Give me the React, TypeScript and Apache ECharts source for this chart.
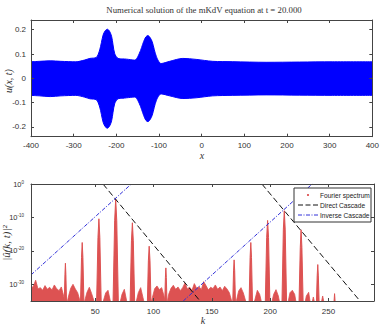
import React, { useEffect, useRef } from 'react';
import * as echarts from 'echarts';

// ---- Top panel: envelope of u(x, t) ----
const topX = [-400, -380, -355, -330, -295, -275, -262, -247, -239, -231, -226, -221, -216, -211, -204, -196, -185, -176, -157, -146, -136, -131, -126, -121, -116, -106, -95, -75, -44, -13, 26, 73, 151, 229, 306, 400];
const topUpper = [0.068, 0.070, 0.072, 0.070, 0.068, 0.075, 0.082, 0.086, 0.117, 0.178, 0.196, 0.202, 0.194, 0.172, 0.103, 0.082, 0.080, 0.079, 0.075, 0.103, 0.151, 0.170, 0.176, 0.168, 0.151, 0.089, 0.061, 0.070, 0.082, 0.078, 0.070, 0.0685, 0.066, 0.067, 0.068, 0.068];
const topLower = [-0.070, -0.072, -0.075, -0.072, -0.070, -0.077, -0.084, -0.088, -0.118, -0.180, -0.199, -0.205, -0.197, -0.174, -0.105, -0.084, -0.082, -0.080, -0.077, -0.104, -0.152, -0.172, -0.178, -0.170, -0.152, -0.090, -0.064, -0.072, -0.083, -0.080, -0.072, -0.070, -0.068, -0.069, -0.070, -0.070];
const topYTicks = [-0.2, -0.1, 0, 0.1, 0.2];

// ---- Bottom panel: Fourier spectrum (log10 exponents) ----
const kTicks = [50, 100, 150, 200, 250];
const expTicks = [-30, -20, -10, 0];
const floorStartK = -5;
const floorStepK = 2;
const floorExp = [
  -31.2, -30.6, -28.8, -31.4, -31.0, -31.8, -30.4, -31.5, -30.9, -31.7,
  -30.2, -31.3, -31.9, -30.8, -33.5, -37, -33.8, -31.2, -30.0, -31.4,
  -32.5, -35, -37, -35, -32.4, -30.9, -32.8, -35, -37, -37,
  -37, -35, -32.6, -31.8, -35, -37, -37, -37, -36, -33,
  -31.5, -35, -37, -37, -37, -35.5, -32.5, -31.0, -34, -37,
  -37, -37, -34, -31.3, -30.5, -31.6, -31.0, -33.5, -37, -33,
  -31.2, -30.3, -31.5, -30.8, -31.9, -31.0, -29.6, -31.4, -30.9, -31.8,
  -29.8, -31.2, -30.7, -31.6, -29.2, -30.4, -31.7, -30.9, -31.3, -30.2,
  -31.5, -30.8, -31.9, -30.6, -31.4, -32.5, -35, -37, -35, -32,
  -31.0, -32.6, -35, -37, -37, -37, -34.5, -31.8, -33, -36,
  -37, -37, -37, -36, -33, -31.6, -33.5, -37, -37, -37,
  -36, -32.5, -31.8, -33, -37, -37, -37, -37, -33.5, -32.4,
  -37, -33.8, -37, -37, -37, -33.5, -37,
];
const peakPoints = [
  [23.5, -36], [24.1, -27], [24.5, -23.7], [24.9, -27], [25.5, -36],
  [37.4, -36], [38.3, -22], [38.9, -17.5], [39.5, -22], [40.4, -36],
  [51.2, -36], [52.4, -16], [53.2, -10.4], [54.0, -16], [55.2, -36],
  [65.3, -36], [66.7, -11], [67.6, -4.5], [68.5, -11], [69.9, -36],
  [79.9, -36], [81.1, -17], [81.9, -11.6], [82.7, -17], [83.9, -36],
  [94.7, -36], [95.6, -23], [96.3, -18.6], [97.0, -23], [97.9, -36],
  [109.6, -36], [110.2, -28], [110.6, -25.1], [111.0, -28], [111.6, -36],
  [167.9, -36], [168.6, -26], [169.1, -22.7], [169.6, -26], [170.3, -36],
  [181.9, -36], [182.8, -22], [183.4, -17.5], [184.0, -22], [184.9, -36],
  [195.8, -36], [197.0, -16], [197.8, -10.9], [198.6, -16], [199.8, -36],
  [210.1, -36], [211.3, -13.5], [212.1, -8.0], [212.9, -13.5], [214.1, -36],
  [224.7, -36], [225.8, -19], [226.5, -13.7], [227.2, -19], [228.3, -36],
  [239.6, -36], [240.3, -27.5], [240.8, -24.1], [241.3, -27.5], [242.0, -36],
  [254.6, -36], [255.2, -32.8], [255.8, -36],
];
const directCascade1 = [[56.7, 0], [139.9, -35]];
const directCascade2 = [[192.9, 0], [277, -35]];
const inverseCascade1 = [[-5, -27.2], [81, 0]];
const inverseCascade2 = [[125.5, -35], [236, 0]];

const SANS = '"Liberation Sans", Arial, sans-serif';
const SERIF = '"Liberation Serif", "Times New Roman", serif';
const RED = '#dd5252';
const BLUE = '#0000ff';
const CASCADE_BLUE = '#3030d8';
const FRAME = '#444';

export default function App() {
  const ref = useRef<HTMLDivElement>(null);
  useEffect(() => {
    if (!ref.current) return;
    const chart = echarts.init(ref.current, undefined, { renderer: 'svg' });
    const tick = { show: true, inside: true, length: 3, lineStyle: { color: FRAME, width: 1 } };
    const frameLine = { show: true, onZero: false, lineStyle: { color: FRAME, width: 1 } };
    const lbl = { fontSize: 8, fontFamily: SANS, color: '#333' };
    const common = { type: 'value', z: 10, axisLine: frameLine, splitLine: { show: false } };
    const option: any = {
      animation: false,
      backgroundColor: '#fff',
      grid: [
        { left: 31, top: 20, width: 342.5, height: 116.7 },
        { left: 31, top: 184, width: 343, height: 117 },
      ],
      xAxis: [
        { ...common, gridIndex: 0, min: -400, max: 400, interval: 100, axisTick: tick, axisLabel: { ...lbl, margin: 5 } },
        { ...common, gridIndex: 0, position: 'top', min: -400, max: 400, interval: 100, axisTick: tick, axisLabel: { show: false } },
        { ...common, gridIndex: 1, min: -5, max: 289, axisTick: { ...tick, customValues: kTicks }, axisLabel: { ...lbl, margin: 6, customValues: kTicks } },
        { ...common, gridIndex: 1, position: 'top', min: -5, max: 289, axisTick: { ...tick, customValues: kTicks }, axisLabel: { show: false } },
      ],
      yAxis: [
        { ...common, gridIndex: 0, min: -0.24, max: 0.24, axisTick: { ...tick, customValues: topYTicks }, axisLabel: { ...lbl, margin: 5, customValues: topYTicks, formatter: (v: number) => String(v) } },
        { ...common, gridIndex: 0, position: 'right', min: -0.24, max: 0.24, axisTick: { ...tick, customValues: topYTicks }, axisLabel: { show: false } },
        {
          ...common, gridIndex: 1, min: -35, max: 0, axisTick: { ...tick, customValues: expTicks },
          axisLabel: {
            margin: 7, customValues: expTicks, showMaxLabel: true, showMinLabel: true,
            formatter: (v: number) => `{b|10}{s|${Math.round(v)}}`,
            rich: {
              b: { fontSize: 7.5, fontFamily: SANS, color: '#333' },
              s: { fontSize: 4.5, fontFamily: SANS, color: '#333', verticalAlign: 'top', padding: [0, 0, 4, 0] },
            },
          },
        },
        { ...common, gridIndex: 1, position: 'right', min: -35, max: 0, axisTick: { ...tick, customValues: expTicks }, axisLabel: { show: false } },
      ],
      series: [
        {
          type: 'line', xAxisIndex: 0, yAxisIndex: 0, symbol: 'none', smooth: 0.3,
          data: topX.map((x, i) => [x, topUpper[i]]),
          lineStyle: { color: BLUE, width: 1 }, areaStyle: { color: BLUE, opacity: 1, origin: 'start' },
        },
        {
          type: 'line', xAxisIndex: 0, yAxisIndex: 0, symbol: 'none', smooth: 0.3,
          data: topX.map((x, i) => [x, topLower[i]]),
          lineStyle: { color: BLUE, width: 1 }, areaStyle: { color: '#fff', opacity: 1, origin: 'start' },
        },
        {
          name: 'Fourier spectrum', type: 'line', xAxisIndex: 2, yAxisIndex: 2, symbol: 'none',
          data: floorExp.map((v, i) => [floorStartK + i * floorStepK, v]),
          lineStyle: { color: RED, width: 0.8 }, areaStyle: { color: RED, opacity: 1, origin: 'start' },
        },
        {
          name: 'Fourier spectrum', type: 'line', xAxisIndex: 2, yAxisIndex: 2, symbol: 'none',
          data: peakPoints,
          lineStyle: { color: RED, width: 1 }, areaStyle: { color: RED, opacity: 1, origin: 'start' },
        },
        ...[directCascade1, directCascade2].map((d) => ({
          name: 'Direct Cascade', type: 'line', xAxisIndex: 2, yAxisIndex: 2, symbol: 'none', data: d,
          lineStyle: { color: '#111', width: 1, type: [6, 3] },
        })),
        ...[inverseCascade1, inverseCascade2].map((d) => ({
          name: 'Inverse Cascade', type: 'line', xAxisIndex: 2, yAxisIndex: 2, symbol: 'none', data: d,
          lineStyle: { color: CASCADE_BLUE, width: 1, type: [4, 1.5, 1, 1.5] },
        })),
      ],
      graphic: [
        { type: 'text', z: 100, x: 204, y: 10, style: { text: 'Numerical solution of the mKdV equation at t = 20.000', font: `8.8px ${SERIF}`, fill: '#333', align: 'center', verticalAlign: 'middle' } },
        { type: 'text', z: 100, x: 8, y: 81, rotation: Math.PI / 2, style: { text: 'u(x, t)', font: `italic 10px ${SERIF}`, fill: '#333', align: 'center', verticalAlign: 'middle' } },
        { type: 'text', z: 100, x: 202, y: 155, style: { text: 'x', font: `italic 10px ${SERIF}`, fill: '#333', align: 'center', verticalAlign: 'middle' } },
        { type: 'text', z: 100, x: 6, y: 243, rotation: Math.PI / 2, style: { text: '|û(k, t)|²', font: `italic 11px ${SERIF}`, fill: '#333', align: 'center', verticalAlign: 'middle' } },
        { type: 'text', z: 100, x: 203, y: 320, style: { text: 'k', font: `italic 10px ${SERIF}`, fill: '#333', align: 'center', verticalAlign: 'middle' } },
        { type: 'rect', z: 100, shape: { x: 294, y: 188, width: 77, height: 34 }, style: { fill: '#fff', stroke: '#333', lineWidth: 1 } },
        { type: 'circle', z: 101, shape: { cx: 308, cy: 195, r: 1.1 }, style: { fill: RED } },
        { type: 'text', z: 101, x: 320, y: 195, style: { text: 'Fourier spectrum', font: `6.6px ${SANS}`, fill: '#222', verticalAlign: 'middle' } },
        { type: 'line', z: 101, shape: { x1: 298, y1: 205, x2: 318, y2: 205 }, style: { stroke: '#111', lineWidth: 1, lineDash: [5, 2.5] } },
        { type: 'text', z: 101, x: 320, y: 205, style: { text: 'Direct Cascade', font: `6.6px ${SANS}`, fill: '#222', verticalAlign: 'middle' } },
        { type: 'line', z: 101, shape: { x1: 298, y1: 215, x2: 318, y2: 215 }, style: { stroke: CASCADE_BLUE, lineWidth: 1, lineDash: [4, 1.5, 1, 1.5] } },
        { type: 'text', z: 101, x: 320, y: 215, style: { text: 'Inverse Cascade', font: `6.6px ${SANS}`, fill: '#222', verticalAlign: 'middle' } },
      ],
    };
    chart.setOption(option);
    return () => chart.dispose();
  }, []);
  return <div ref={ref} style={{ position: 'fixed', left: 0, top: 0, width: 382, height: 327 }} />;
}
